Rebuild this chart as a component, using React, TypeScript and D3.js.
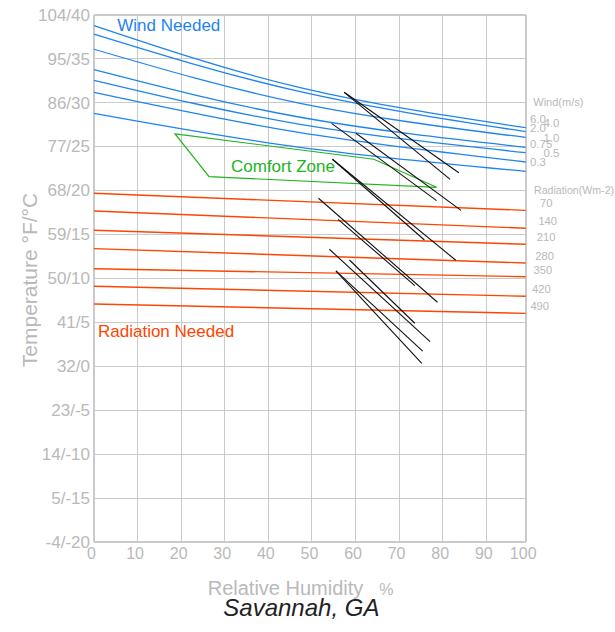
import React, { useRef, useEffect } from 'react';
import * as d3 from 'd3';

// axis ticks
const rhTicks = [0, 10, 20, 30, 40, 50, 60, 70, 80, 90, 100];
const tempTicksC = [-20, -15, -10, -5, 0, 5, 10, 15, 20, 25, 30, 35, 40];
const tempTickLabels = ['-4/-20', '5/-15', '14/-10', '23/-5', '32/0', '41/5', '50/10', '59/15', '68/20', '77/25', '86/30', '95/35', '104/40'];

// wind lines (deg C read at RH 0, 47.3, 100)
const windRh = [0, 47.3, 100];
const windLabels = ['6.0', '4.0', '2.0', '1.0', '0.75', '0.5', '0.3'];
const windTemps = [
  [38.75, 31.7, 27.14],
  [37.8, 31.24, 26.69],
  [36.07, 29.92, 26.03],
  [33.74, 28.33, 24.91],
  [32.54, 27.53, 24.3],
  [31.17, 26.58, 23.24],
  [28.78, 24.91, 22.18],
];

// radiation lines (deg C at RH 0 and RH 100)
const radiationLabels = ['70', '140', '210', '280', '350', '420', '490'];
const radiationStart = [19.68, 17.67, 15.47, 13.38, 11.1, 9.1, 7.08];
const radiationEnd = [17.74, 15.7, 13.88, 11.75, 10.19, 7.96, 6.02];

// comfort zone outline
const comfortRh = [18.6, 64.2, 78.6, 26.4];
const comfortT = [26.43, 23.55, 20.36, 21.57];

// monthly climate lines: (min RH, max T) -> (max RH, min T)
const monthRhLow = [57.4, 57.4, 54.5, 60.1, 54.7, 54.7, 51.5, 56.0, 54.0, 58.6, 55.5, 55.5];
const monthTHigh = [31.17, 31.17, 27.64, 26.51, 23.55, 23.55, 19.11, 16.72, 13.31, 12.09, 10.84, 10.84];
const monthRhHigh = [83.7, 81.7, 78.6, 84.2, 75.8, 83.0, 78.8, 73.6, 77.1, 73.6, 75.4, 75.2];
const monthTLow = [22.02, 21.27, 18.84, 17.74, 14.36, 12.06, 7.28, 9.17, 2.79, 4.89, 1.73, 0.33];

const FONT = '"Liberation Sans", Arial, sans-serif';
const GRID = '#cacaca';
const LABEL = '#b9b9b9';

export default function App() {
  const chartRef = useRef<HTMLDivElement | null>(null);

  useEffect(() => {
    const width = 615;
    const height = 632;

    const x = d3.scaleLinear().domain([0, 90, 100]).range([94, 486.3, 525.7]);
    const y = d3.scaleLinear().domain([-20, 40]).range([542, 14.7]);

    const svg = d3
      .select(chartRef.current)
      .append('svg')
      .attr('width', width)
      .attr('height', height)
      .style('display', 'block')
      .style('font-family', FONT);

    svg.append('rect').attr('width', width).attr('height', height).attr('fill', '#fff');

    // grid
    const grid = svg.append('g').attr('shape-rendering', 'crispEdges');
    grid.selectAll('.vgrid')
      .data(rhTicks)
      .enter()
      .append('line')
      .attr('x1', (d) => x(d))
      .attr('x2', (d) => x(d))
      .attr('y1', y(40))
      .attr('y2', y(-20))
      .attr('stroke', GRID)
      .attr('stroke-width', (d) => (d === 0 || d === 100 ? 1.6 : 1));
    grid.selectAll('.hgrid')
      .data(tempTicksC)
      .enter()
      .append('line')
      .attr('x1', x(0))
      .attr('x2', x(100))
      .attr('y1', (d) => y(d))
      .attr('y2', (d) => y(d))
      .attr('stroke', GRID)
      .attr('stroke-width', (d) => (d === -20 || d === 40 ? 1.6 : 1));

    // tick labels
    svg.selectAll('.ytick')
      .data(tempTicksC)
      .enter()
      .append('text')
      .attr('x', 90)
      .attr('y', (d) => y(d))
      .attr('dy', '0.35em')
      .attr('text-anchor', 'end')
      .attr('font-size', 17)
      .attr('fill', LABEL)
      .text((d, i) => tempTickLabels[i]);

    svg.selectAll('.xtick')
      .data(rhTicks)
      .enter()
      .append('text')
      .attr('x', (d) => x(d) - 2.5)
      .attr('y', 559)
      .attr('text-anchor', 'middle')
      .attr('font-size', 16)
      .attr('fill', LABEL)
      .text((d) => d);

    // axis titles
    svg.append('text')
      .attr('transform', 'translate(30, 280) rotate(-90)')
      .attr('text-anchor', 'middle')
      .attr('dy', '0.35em')
      .attr('font-size', 21)
      .attr('fill', LABEL)
      .text('Temperature °F/°C');

    svg.append('text')
      .attr('x', 207.7)
      .attr('y', 595)
      .attr('font-size', 20)
      .attr('fill', LABEL)
      .text('Relative Humidity');
    svg.append('text')
      .attr('x', 379.3)
      .attr('y', 595)
      .attr('font-size', 16)
      .attr('fill', LABEL)
      .text('%');

    svg.append('text')
      .attr('x', 223.3)
      .attr('y', 616)
      .attr('font-size', 24)
      .attr('font-style', 'italic')
      .attr('fill', '#222')
      .text('Savannah, GA');

    // radiation lines
    svg.selectAll('.rad')
      .data(radiationStart)
      .enter()
      .append('line')
      .attr('x1', x(0))
      .attr('y1', (d) => y(d))
      .attr('x2', x(100))
      .attr('y2', (d, i) => y(radiationEnd[i]))
      .attr('stroke', '#ff4500')
      .attr('stroke-width', 1.4);

    // wind curves
    const windLine = d3.line<number>()
      .x((d, i) => x(windRh[i]))
      .y((d) => y(d))
      .curve(d3.curveNatural);

    svg.selectAll('.wind')
      .data(windTemps)
      .enter()
      .append('path')
      .attr('d', (d) => windLine(d))
      .attr('fill', 'none')
      .attr('stroke', '#1e84f0')
      .attr('stroke-width', 1.3);

    // comfort zone
    const zone = comfortRh.map((rh, i) => [x(rh), y(comfortT[i])] as [number, number]);
    svg.append('path')
      .attr('d', d3.line().curve(d3.curveLinearClosed)(zone))
      .attr('fill', 'none')
      .attr('stroke', '#22b322')
      .attr('stroke-width', 1.2);

    // monthly lines
    svg.selectAll('.month')
      .data(monthRhLow)
      .enter()
      .append('line')
      .attr('x1', (d) => x(d))
      .attr('y1', (d, i) => y(monthTHigh[i]))
      .attr('x2', (d, i) => x(monthRhHigh[i]))
      .attr('y2', (d, i) => y(monthTLow[i]))
      .attr('stroke', '#111')
      .attr('stroke-width', 1.1);

    // labels in plot
    svg.append('text')
      .attr('x', 117.3)
      .attr('y', 31)
      .attr('font-size', 17)
      .attr('fill', '#1e84f0')
      .text('Wind Needed');
    svg.append('text')
      .attr('x', 98)
      .attr('y', 337)
      .attr('font-size', 17)
      .attr('fill', '#ff4500')
      .text('Radiation Needed');
    svg.append('text')
      .attr('x', 231)
      .attr('y', 171.5)
      .attr('font-size', 17)
      .attr('fill', '#22b322')
      .text('Comfort Zone');

    // right side legends
    svg.append('text')
      .attr('x', 533.3)
      .attr('y', 101.7)
      .attr('dy', '0.35em')
      .attr('font-size', 11)
      .attr('fill', LABEL)
      .text('Wind(m/s)');
    svg.selectAll('.windlab')
      .data(windLabels)
      .enter()
      .append('text')
      .attr('x', (d, i) => (i % 2 === 1 ? 543.5 : 530))
      .attr('y', (d, i) => y(windTemps[i][2]) - 9)
      .attr('dy', '0.35em')
      .attr('font-size', 11.5)
      .attr('fill', LABEL)
      .text((d) => d);

    svg.append('text')
      .attr('x', 534)
      .attr('y', 190)
      .attr('dy', '0.35em')
      .attr('font-size', 10.6)
      .attr('fill', LABEL)
      .text('Radiation(Wm-2)');
    svg.selectAll('.radlab')
      .data(radiationLabels)
      .enter()
      .append('text')
      .attr('x', (d, i) => 540 - i * 1.6)
      .attr('y', (d, i) => y(radiationEnd[i]) - 6.8)
      .attr('dy', '0.35em')
      .attr('font-size', 11.2)
      .attr('fill', LABEL)
      .text((d) => d);

    return () => {
      svg.remove();
    };
  }, []);

  return <div ref={chartRef} style={{ position: 'absolute', left: 0, top: 0, width: 615, height: 632 }}></div>;
}
